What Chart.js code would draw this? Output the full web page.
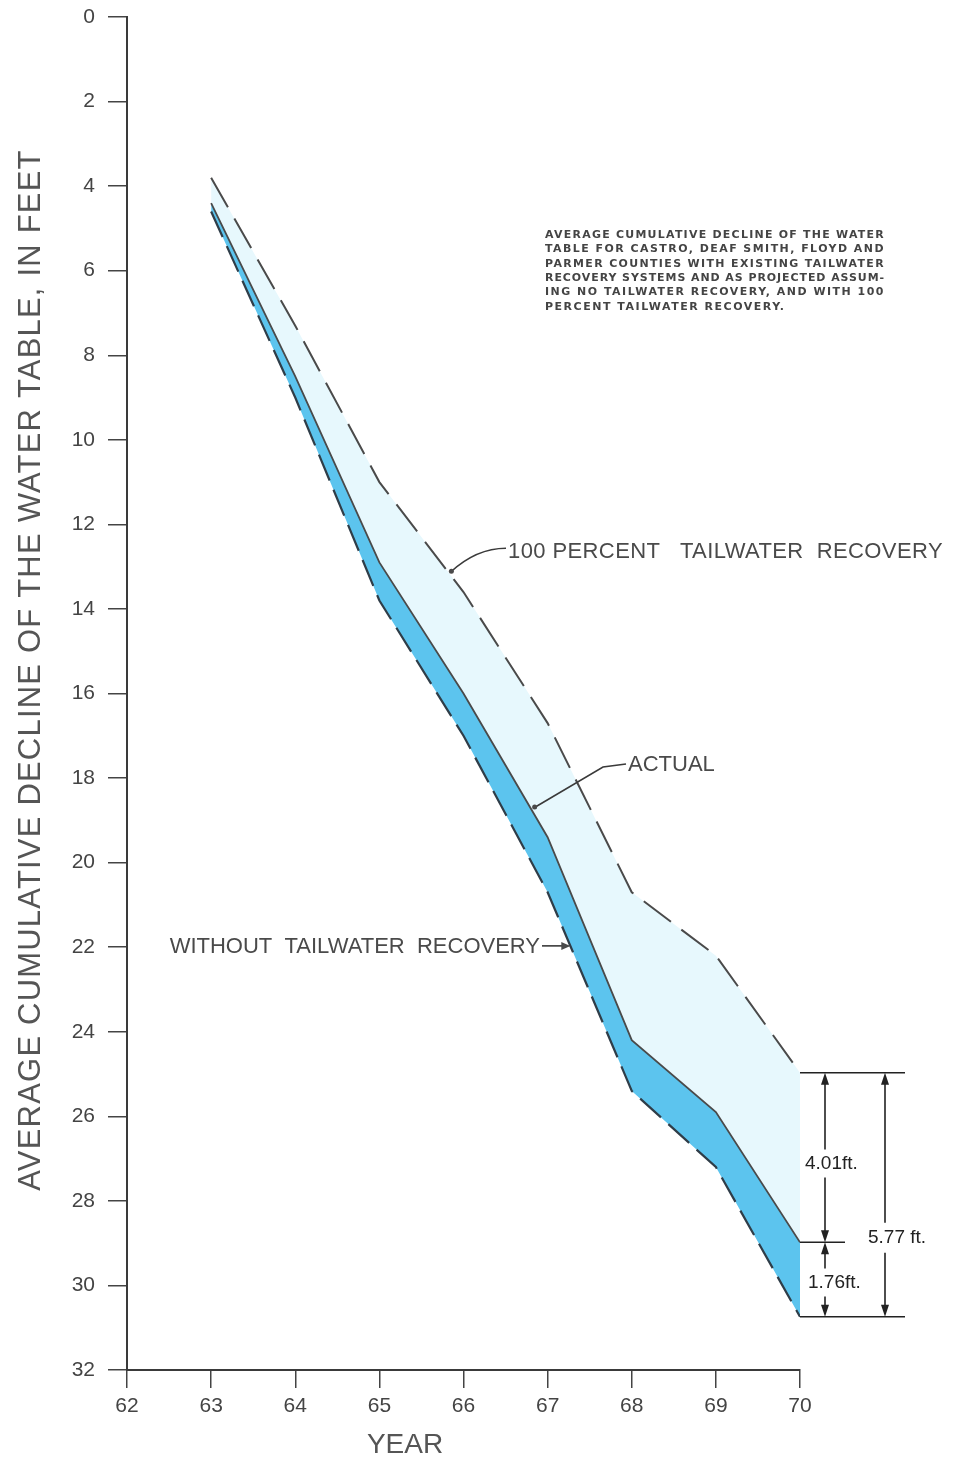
<!DOCTYPE html>
<html lang="en">
<head>
    <meta charset="UTF-8">
    <title>Average cumulative decline of the water table</title>
    <script src="https://cdn.jsdelivr.net/npm/chart.js"></script>
    <style>
        body {
            margin: 0;
            background-color: #ffffff;
        }
        .chart-container {
            position: relative;
            width: 966px;
            height: 1457px;
        }
    </style>
</head>
<body>
    <div class="chart-container">
        <canvas id="declineChart"></canvas>
    </div>

    <script>
        // data (feet of decline, by year 19xx)
        const years = [63, 64, 65, 66, 67, 68, 69, 70];
        const fullRecovery = [3.8, 7.3, 11.0, 13.6, 16.7, 20.7, 22.2, 24.97];
        const actual = [4.4, 8.5, 12.9, 16.0, 19.4, 24.2, 25.9, 28.98];
        const noRecovery = [4.6, 9.0, 13.8, 17.0, 20.7, 25.4, 27.2, 30.74];

        const noteLines = [
            'AVERAGE CUMULATIVE DECLINE OF THE WATER',
            'TABLE FOR CASTRO, DEAF SMITH, FLOYD AND',
            'PARMER COUNTIES WITH EXISTING TAILWATER',
            'RECOVERY SYSTEMS AND AS PROJECTED ASSUM-',
            'ING NO TAILWATER RECOVERY, AND WITH 100',
            'PERCENT TAILWATER RECOVERY.'
        ];

        const colors = {
            ink: '#3a3a3a',
            text: '#4a4a4a',
            light: 'rgb(231, 248, 253)',
            dark: 'rgb(92, 196, 238)'
        };
        const fontFamily = "'Liberation Sans', Arial, sans-serif";

        const toPoints = (vals) => years.map((y, i) => ({ x: y, y: vals[i] }));

        // value of a series at a fractional year
        const interp = (vals, x) => {
            for (let i = 0; i < years.length - 1; i++) {
                if (x >= years[i] && x <= years[i + 1]) {
                    const t = (x - years[i]) / (years[i + 1] - years[i]);
                    return vals[i] + t * (vals[i + 1] - vals[i]);
                }
            }
            return vals[vals.length - 1];
        };

        function arrowHead(ctx, x, y, dir) {
            // dir: 1 points down, -1 points up
            ctx.beginPath();
            ctx.moveTo(x, y);
            ctx.lineTo(x - 4, y - dir * 12);
            ctx.lineTo(x + 4, y - dir * 12);
            ctx.closePath();
            ctx.fill();
        }

        const decor = {
            id: 'decor',
            afterDraw(chart) {
                const ctx = chart.ctx;
                const xs = chart.scales.x;
                const ys = chart.scales.y;
                const px = (v) => xs.getPixelForValue(v);
                const py = (v) => ys.getPixelForValue(v);

                ctx.save();
                ctx.fillStyle = colors.text;
                ctx.strokeStyle = colors.ink;

                // y axis title
                ctx.save();
                ctx.translate(31, 670);
                ctx.rotate(-Math.PI / 2);
                ctx.font = '31px ' + fontFamily;
                ctx.letterSpacing = '1.2px';
                ctx.textAlign = 'center';
                ctx.textBaseline = 'middle';
                ctx.fillStyle = '#555';
                ctx.fillText('AVERAGE CUMULATIVE DECLINE OF THE WATER TABLE, IN FEET', 0, 0);
                ctx.restore();

                // x axis title
                ctx.font = '28px ' + fontFamily;
                ctx.textAlign = 'center';
                ctx.textBaseline = 'middle';
                ctx.fillStyle = '#555';
                ctx.fillText('YEAR', 405, 1445);

                // note block, justified by letter spacing
                ctx.font = "bold 11px 'DejaVu Sans', sans-serif";
                ctx.textAlign = 'left';
                ctx.fillStyle = '#444';
                const noteX = 545, noteW = 340;
                let lastLs = 0;
                noteLines.forEach((line, i) => {
                    const y = 235 + i * 14.4;
                    ctx.letterSpacing = '0px';
                    const w = ctx.measureText(line).width;
                    let ls = (noteW - w) / (line.length - 1);
                    if (i === noteLines.length - 1) ls = lastLs;
                    lastLs = ls;
                    ctx.letterSpacing = ls.toFixed(2) + 'px';
                    ctx.fillText(line, noteX, y, noteW);
                });
                ctx.letterSpacing = '0px';

                // leader labels
                ctx.fillStyle = colors.text;
                ctx.lineWidth = 1.6;
                ctx.font = '22px ' + fontFamily;

                // 100 percent
                let tx = 65.82;
                let tipX = px(tx), tipY = py(interp(fullRecovery, tx));
                ctx.beginPath();
                ctx.moveTo(tipX + 2, tipY);
                ctx.quadraticCurveTo(tipX + 28, tipY - 24, 506, tipY - 24);
                ctx.stroke();
                ctx.letterSpacing = '0.4px';
                ctx.fillText('100 PERCENT   TAILWATER  RECOVERY', 508, 552);
                ctx.letterSpacing = '0px';
                ctx.beginPath();
                ctx.arc(tipX + 3, tipY - 1, 2.5, 0, Math.PI * 2);
                ctx.fill();

                // actual
                tx = 66.81;
                tipX = px(tx); tipY = py(interp(actual, tx));
                ctx.beginPath();
                ctx.moveTo(tipX + 2, tipY - 2);
                ctx.lineTo(603, 767);
                ctx.lineTo(626, 764);
                ctx.stroke();
                ctx.beginPath();
                ctx.arc(tipX + 3, tipY - 3, 2.5, 0, Math.PI * 2);
                ctx.fill();
                ctx.fillText('ACTUAL', 628, 765);

                // without
                tx = 67.27;
                tipX = px(tx); tipY = py(interp(noRecovery, tx));
                ctx.textAlign = 'right';
                ctx.font = '22px ' + fontFamily;
                ctx.fillText('WITHOUT  TAILWATER  RECOVERY', 540, tipY + 1);
                ctx.beginPath();
                ctx.moveTo(542, tipY);
                ctx.lineTo(tipX - 2, tipY);
                ctx.stroke();
                ctx.beginPath();
                ctx.moveTo(tipX, tipY);
                ctx.lineTo(tipX - 9, tipY - 4);
                ctx.lineTo(tipX - 9, tipY + 4);
                ctx.closePath();
                ctx.fill();

                // dimension marks at 1970
                const xEnd = px(70);
                const yTop = py(fullRecovery[7]);
                const yMid = py(actual[7]);
                const yBot = py(noRecovery[7]);
                const a1 = xEnd + 25, a2 = xEnd + 85;
                ctx.strokeStyle = '#222';
                ctx.fillStyle = '#222';
                ctx.lineWidth = 1.6;
                ctx.beginPath();
                ctx.moveTo(xEnd, yTop); ctx.lineTo(xEnd + 105, yTop);
                ctx.moveTo(xEnd, yMid); ctx.lineTo(xEnd + 45, yMid);
                ctx.moveTo(xEnd, yBot); ctx.lineTo(xEnd + 105, yBot);
                // inner arrows, broken around the labels
                const lab1 = (yTop + yMid) / 2 + 6;
                const lab2 = (yMid + yBot) / 2 + 3;
                const lab3 = (yTop + yBot) / 2 + 43;
                ctx.moveTo(a1, yTop + 10); ctx.lineTo(a1, lab1 - 14);
                ctx.moveTo(a1, lab1 + 14); ctx.lineTo(a1, yMid - 10);
                ctx.moveTo(a1, yMid + 10); ctx.lineTo(a1, lab2 - 14);
                ctx.moveTo(a1, lab2 + 14); ctx.lineTo(a1, yBot - 10);
                // outer arrow
                ctx.moveTo(a2, yTop + 10); ctx.lineTo(a2, lab3 - 15);
                ctx.moveTo(a2, lab3 + 15); ctx.lineTo(a2, yBot - 10);
                ctx.stroke();
                arrowHead(ctx, a1, yTop, -1);
                arrowHead(ctx, a1, yMid, 1);
                arrowHead(ctx, a1, yMid, -1);
                arrowHead(ctx, a1, yBot, 1);
                arrowHead(ctx, a2, yTop, -1);
                arrowHead(ctx, a2, yBot, 1);

                ctx.font = '19px ' + fontFamily;
                ctx.textAlign = 'left';
                ctx.textBaseline = 'middle';
                ctx.fillText('4.01ft.', xEnd + 5, lab1);
                ctx.fillText('5.77 ft.', xEnd + 68, lab3);
                ctx.fillText('1.76ft.', xEnd + 8, lab2);

                ctx.restore();
            }
        };

        new Chart(document.getElementById('declineChart'), {
            type: 'line',
            data: {
                datasets: [
                    {
                        label: '100 percent tailwater recovery',
                        data: toPoints(fullRecovery),
                        borderColor: '#4a4a4a',
                        borderWidth: 2,
                        borderDash: [34, 13],
                        pointRadius: 0,
                        fill: false
                    },
                    {
                        label: 'Actual',
                        data: toPoints(actual),
                        borderColor: '#4a4a4a',
                        borderWidth: 1.8,
                        pointRadius: 0,
                        backgroundColor: colors.light,
                        fill: '-1'
                    },
                    {
                        label: 'Without tailwater recovery',
                        data: toPoints(noRecovery),
                        borderColor: '#2f3d48',
                        borderWidth: 2.2,
                        borderDash: [28, 10],
                        pointRadius: 0,
                        backgroundColor: colors.dark,
                        fill: '-1'
                    }
                ]
            },
            options: {
                responsive: true,
                maintainAspectRatio: false,
                animation: false,
                layout: {
                    padding: { top: 17, right: 166, left: 0, bottom: 0 }
                },
                scales: {
                    x: {
                        type: 'linear',
                        min: 62,
                        max: 70,
                        afterFit: (scale) => { scale.height = 87; },
                        ticks: {
                            stepSize: 1,
                            color: '#444',
                            font: { family: fontFamily, size: 21 },
                            padding: 6
                        },
                        grid: {
                            drawOnChartArea: false,
                            drawTicks: true,
                            tickLength: 18,
                            color: '#444',
                            lineWidth: 1.5
                        },
                        border: { display: true, color: '#3a3a3a', width: 2 }
                    },
                    y: {
                        reverse: true,
                        min: 0,
                        max: 32,
                        afterFit: (scale) => {
                            scale.width = 127;
                            scale.paddingTop = 0;
                            scale.paddingBottom = 0;
                        },
                        ticks: {
                            stepSize: 2,
                            color: '#444',
                            font: { family: fontFamily, size: 21 },
                            padding: 13
                        },
                        grid: {
                            drawOnChartArea: false,
                            drawTicks: true,
                            tickLength: 19,
                            color: '#444',
                            lineWidth: 1.5
                        },
                        border: { display: true, color: '#3a3a3a', width: 2 }
                    }
                },
                plugins: {
                    legend: { display: false },
                    tooltip: { enabled: false }
                }
            },
            plugins: [decor]
        });
    </script>
</body>
</html>
